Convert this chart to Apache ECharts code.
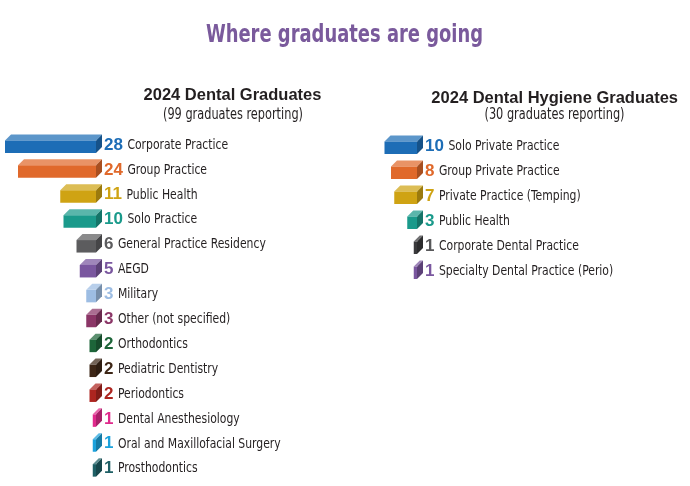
<!DOCTYPE html>
<html>
<head>
<meta charset="utf-8">
<script src="https://cdn.jsdelivr.net/npm/echarts@6/dist/echarts.min.js"></script>
<style>
  html, body { margin: 0; padding: 0; background: #ffffff; }
  #chart { width: 690px; height: 486px; }
</style>
</head>
<body>
<div id="chart"></div>
<script>
// 2024 Dental Graduates (99 reporting)
const dentalCategories = [
  'Corporate Practice', 'Group Practice', 'Public Health', 'Solo Practice',
  'General Practice Residency', 'AEGD', 'Military', 'Other (not specified)',
  'Orthodontics', 'Pediatric Dentistry', 'Periodontics', 'Dental Anesthesiology',
  'Oral and Maxillofacial Surgery', 'Prosthodontics'
];
const dentalValues = [28, 24, 11, 10, 6, 5, 3, 3, 2, 2, 2, 1, 1, 1];
const dentalColors = [
  '#1d6db6', '#e0692b', '#cfa313', '#1a9a8b', '#5c5c5e', '#7a579f', '#9dbde3',
  '#8b3667', '#1d6539', '#3d2616', '#ad2520', '#e02a8c', '#1ca2dc', '#1e5f65'
];

// 2024 Dental Hygiene Graduates (30 reporting)
const hygieneCategories = [
  'Solo Private Practice', 'Group Private Practice', 'Private Practice (Temping)',
  'Public Health', 'Corporate Dental Practice', 'Specialty Dental Practice (Perio)'
];
const hygieneValues = [10, 8, 7, 3, 1, 1];
const hygieneColors = ['#1d6db6', '#e0692b', '#cfa313', '#1a9a8b', '#3a3a3c', '#7a579f'];
const hygieneLabelColors = ['#1d6db6', '#e0692b', '#cfa313', '#1a9a8b', '#58585a', '#7a579f'];

const NARROW = "'DejaVu Sans Condensed', 'Liberation Sans Narrow', sans-serif";
const WIDE = "'Liberation Sans', Arial, sans-serif";
const VALUE_FONT = 'bold 17px ' + WIDE;
const NAME_SCALE = 0.83;

const measureCtx = document.createElement('canvas').getContext('2d');
function textWidth(text, font) {
  measureCtx.font = font;
  return measureCtx.measureText(text).width;
}

function mix(hex, target, t) {
  const c = parseInt(hex.slice(1), 16);
  const r = (c >> 16) & 255, g = (c >> 8) & 255, b = c & 255;
  const m = (v) => Math.round(v + (target - v) * t);
  return 'rgb(' + m(r) + ',' + m(g) + ',' + m(b) + ')';
}

// Draws one extruded bar growing leftwards from the axis origin, plus its labels
function makeRender(categories, colors, labelColors) {
  return function (params, api) {
    const value = api.value(0);
    const idx = api.value(1);
    const left = api.coord([value, idx]);
    const right = api.coord([0, idx]);
    const cy = right[1];
    const dx = 6, dy = 6;
    const top = cy - 3.5, bottom = cy + 9;
    const x0 = left[0], x1 = right[0];
    const base = colors[idx];
    const labelX = x1 + dx + 2;
    const valueText = String(value);
    const nameX = labelX + textWidth(valueText, VALUE_FONT) + 4.5;
    return {
      type: 'group',
      children: [
        {
          type: 'polygon',
          shape: { points: [[x0, top], [x0 + dx, top - dy], [x1 + dx, top - dy], [x1, top]] },
          style: { fill: mix(base, 255, 0.28) }
        },
        {
          type: 'polygon',
          shape: { points: [[x1, top], [x1 + dx, top - dy], [x1 + dx, bottom - dy], [x1, bottom]] },
          style: { fill: mix(base, 0, 0.25) }
        },
        {
          type: 'rect',
          shape: { x: x0, y: top, width: x1 - x0, height: bottom - top },
          style: { fill: base }
        },
        {
          type: 'text',
          x: labelX,
          y: cy + 1,
          style: {
            text: valueText, align: 'left', verticalAlign: 'middle',
            font: VALUE_FONT, fill: labelColors[idx]
          }
        },
        {
          type: 'text',
          x: nameX,
          y: cy + 1,
          scaleX: NAME_SCALE,
          style: {
            text: categories[idx], align: 'left', verticalAlign: 'middle',
            fontFamily: NARROW, fontSize: 14.5, fill: '#231f20'
          }
        }
      ]
    };
  };
}

const dentalData = dentalValues.map((v, i) => [v, i]);
const hygieneData = hygieneValues.map((v, i) => [v, i]);

const chart = echarts.init(document.getElementById('chart'), null, { renderer: 'canvas' });
chart.setOption({
  backgroundColor: '#ffffff',
  animation: false,
  grid: [
    { left: 5, width: 91, top: 131.5, height: 348.6 },
    { left: 384.5, width: 32.5, top: 132.5, height: 150 }
  ],
  xAxis: [
    { gridIndex: 0, type: 'value', min: 0, max: 28, inverse: true, show: false },
    { gridIndex: 1, type: 'value', min: 0, max: 10, inverse: true, show: false }
  ],
  yAxis: [
    { gridIndex: 0, type: 'category', data: dentalCategories, inverse: true, show: false },
    { gridIndex: 1, type: 'category', data: hygieneCategories, inverse: true, show: false }
  ],
  series: [
    {
      type: 'custom',
      xAxisIndex: 0, yAxisIndex: 0,
      encode: { x: 0, y: 1 },
      renderItem: makeRender(dentalCategories, dentalColors, dentalColors),
      data: dentalData
    },
    {
      type: 'custom',
      xAxisIndex: 1, yAxisIndex: 1,
      encode: { x: 0, y: 1 },
      renderItem: makeRender(hygieneCategories, hygieneColors, hygieneLabelColors),
      data: hygieneData
    }
  ],
  graphic: [
    {
      type: 'text', x: 344.5, y: 35.5, scaleX: 0.83,
      style: { text: 'Where graduates are going', align: 'center', verticalAlign: 'middle',
        fontFamily: NARROW, fontWeight: 'bold', fontSize: 24, fill: '#7a5a9c' }
    },
    {
      type: 'text', x: 232.5, y: 95.5,
      style: { text: '2024 Dental Graduates', align: 'center', verticalAlign: 'middle',
        fontFamily: WIDE, fontWeight: 'bold', fontSize: 16.5, fill: '#231f20' }
    },
    {
      type: 'text', x: 233, y: 115, scaleX: 0.84,
      style: { text: '(99 graduates reporting)', align: 'center', verticalAlign: 'middle',
        fontFamily: NARROW, fontSize: 15, fill: '#231f20' }
    },
    {
      type: 'text', x: 554.7, y: 98,
      style: { text: '2024 Dental Hygiene Graduates', align: 'center', verticalAlign: 'middle',
        fontFamily: WIDE, fontWeight: 'bold', fontSize: 16.5, fill: '#231f20' }
    },
    {
      type: 'text', x: 554.5, y: 115.5, scaleX: 0.84,
      style: { text: '(30 graduates reporting)', align: 'center', verticalAlign: 'middle',
        fontFamily: NARROW, fontSize: 15, fill: '#231f20' }
    }
  ]
});
</script>
</body>
</html>
